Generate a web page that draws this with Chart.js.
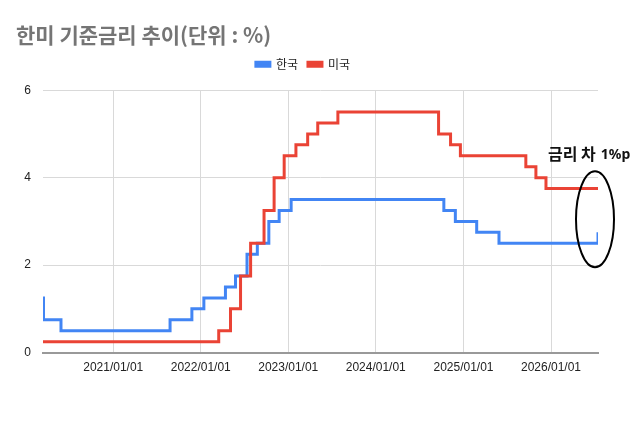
<!DOCTYPE html>
<html>
<head>
<meta charset="utf-8">
<script src="https://cdn.jsdelivr.net/npm/chart.js@4/dist/chart.umd.min.js"></script>
<style>
  html, body { margin: 0; padding: 0; background: #fff; }
  #wrap { width: 640px; height: 423px; }
</style>
</head>
<body>
<div id="wrap"><canvas id="rateChart"></canvas></div>
<script>
// Rate change dates and levels (stepped: value holds until next date)
const koreaDates = ['2020-03-14', '2020-03-16', '2020-05-28', '2021-08-26', '2021-11-25', '2022-01-14',
    '2022-04-14', '2022-05-26', '2022-07-13', '2022-08-25', '2022-10-12', '2022-11-24', '2023-01-13',
    '2024-10-11', '2024-11-28', '2025-02-25', '2025-05-29', '2026-07-16'];
const koreaRates = [1.25, 0.75, 0.5, 0.75, 1.0, 1.25, 1.5, 1.75, 2.25, 2.5, 3.0, 3.25, 3.5,
    3.25, 3.0, 2.75, 2.5, 2.75];

const usDates = ['2020-03-14', '2022-03-17', '2022-05-05', '2022-06-16', '2022-07-28', '2022-09-22',
    '2022-11-03', '2022-12-15', '2023-02-02', '2023-03-23', '2023-05-04', '2023-07-27', '2024-09-19',
    '2024-11-08', '2024-12-19', '2025-09-18', '2025-10-30', '2025-12-11', '2026-07-16'];
const usRates = [0.25, 0.5, 1.0, 1.75, 2.5, 3.25, 4.0, 4.5, 4.75, 5.0, 5.25, 5.5, 5.0,
    4.75, 4.5, 4.25, 4.0, 3.75, 3.75];

const seriesNames = ['한국', '미국'];
const tickYears = [2021, 2022, 2023, 2024, 2025, 2026];
const xStart = '2020-03-14';
const xEnd = '2026-07-16';

const toTime = s => Date.parse(s + 'T00:00:00Z');
const toPoints = (dates, vals) => dates.map((d, i) => ({ x: toTime(d), y: vals[i] }));

// extra space under the legend
const legendGap = {
    id: 'legendGap',
    afterInit(chart) {
        const fit = chart.legend.fit;
        chart.legend.fit = function () {
            fit.call(this);
            this.height += 10;
        };
    }
};

// Hand-drawn note: ellipse round the last values, "금리 차 1%p"
const gapNote = {
    id: 'gapNote',
    afterDatasetsDraw(chart) {
        const { ctx, scales: { x, y } } = chart;
        const cx = x.getPixelForValue(toTime(xEnd)) - 3;
        const cy = y.getPixelForValue(3.05);
        ctx.save();
        ctx.strokeStyle = '#000';
        ctx.lineWidth = 2;
        ctx.beginPath();
        ctx.ellipse(cx, cy, 19, 48, 0, 0, Math.PI * 2);
        ctx.stroke();
        ctx.fillStyle = '#111';
        ctx.textBaseline = 'middle';
        const tx = x.getPixelForValue(toTime('2026-01-01')) - 3;
        const ty = y.getPixelForValue(4.55);
        ctx.font = 'bold 16px "Noto Sans CJK KR"';
        ctx.fillText('금리 차', tx, ty);
        const w = ctx.measureText('금리 차').width;
        ctx.font = 'bold 14px "Noto Sans", "Noto Sans CJK KR"';
        ctx.fillText('1%p', tx + w + 5, ty + 1);
        ctx.restore();
    }
};

const ctx = document.getElementById('rateChart').getContext('2d');
new Chart(ctx, {
    type: 'line',
    data: {
        datasets: [
            {
                label: seriesNames[0],
                data: toPoints(koreaDates, koreaRates),
                borderColor: '#4285F4',
                backgroundColor: '#4285F4',
                borderWidth: 3,
                stepped: true,
                pointRadius: 0,
                order: 1
            },
            {
                label: seriesNames[1],
                data: toPoints(usDates, usRates),
                borderColor: '#EA4335',
                backgroundColor: '#EA4335',
                borderWidth: 3,
                stepped: true,
                pointRadius: 0,
                order: 0
            }
        ]
    },
    options: {
        responsive: true,
        maintainAspectRatio: false,
        animation: false,
        layout: { padding: { left: 16, right: 42, bottom: 40 } },
        plugins: {
            title: {
                display: true,
                text: '한미 기준금리 추이(단위 : %)',
                align: 'start',
                color: '#757575',
                font: { family: '"Noto Sans CJK KR", Roboto, sans-serif', size: 21, weight: 'bold' },
                padding: { top: 22, bottom: 1 }
            },
            legend: {
                labels: {
                    boxWidth: 14,
                    boxHeight: 4,
                    color: '#222',
                    font: { family: '"Noto Sans CJK KR", sans-serif', size: 12 },
                    padding: 10,
                    sort: (a, b) => a.datasetIndex - b.datasetIndex,
                    generateLabels: chart => Chart.defaults.plugins.legend.labels.generateLabels(chart)
                        .map((item, i) => ({ ...item, text: i === 0 ? item.text + '   ' : item.text }))
                }
            },
            tooltip: { enabled: false }
        },
        scales: {
            x: {
                type: 'linear',
                min: toTime(xStart),
                max: toTime(xEnd),
                afterBuildTicks: axis => {
                    axis.ticks = tickYears.map(yr => ({ value: Date.UTC(yr, 0, 1) }));
                },
                ticks: {
                    autoSkip: false,
                    maxRotation: 0,
                    padding: 8,
                    color: '#222',
                    font: { family: '"Liberation Sans", Arial, sans-serif', size: 12 },
                    callback: v => new Date(v).getUTCFullYear() + '/01/01'
                },
                grid: { color: '#d9d9d9', drawTicks: false },
                border: { display: true, color: '#999', width: 2 }
            },
            y: {
                min: 0,
                max: 6,
                afterFit: axis => { axis.width = 27; },
                ticks: {
                    stepSize: 2,
                    padding: 12,
                    color: '#222',
                    font: { family: '"Liberation Sans", Arial, sans-serif', size: 12 }
                },
                grid: { color: '#d9d9d9', drawTicks: false },
                border: { display: false }
            }
        }
    },
    plugins: [legendGap, gapNote]
});
</script>
</body>
</html>
